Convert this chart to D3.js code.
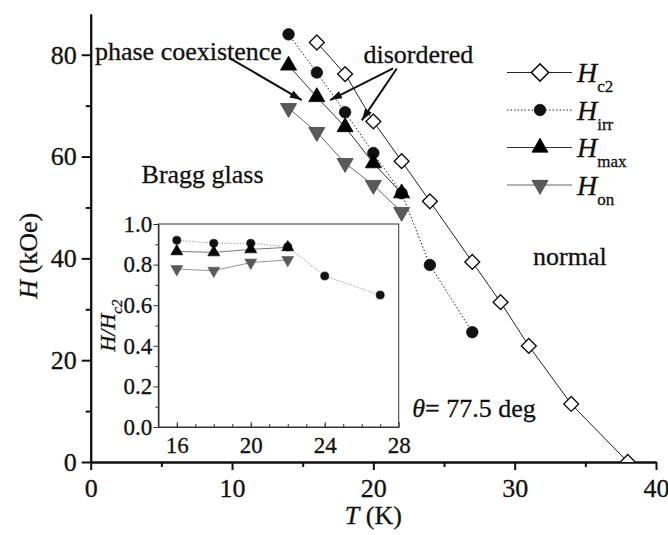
<!DOCTYPE html>
<meta charset="utf-8">

<script src="https://d3js.org/d3.v7.min.js"></script>

<style type="text/css">

body {
  margin: 0;
  background: white;
}

svg text {
  font-family: "Liberation Serif", "DejaVu Serif", serif;
  fill: #111;
  stroke: #111;
  stroke-width: 0.3px;
}

.axis text {
  font-size: 26px;
}

.axis path, .axis line {
  stroke: #111;
  stroke-width: 2px;
}

.inset .axis text {
  font-size: 23px;
}

.inset .axis path, .inset .axis line {
  stroke: #333;
  stroke-width: 1px;
}

.label {
  font-size: 26px;
}

</style>

<body>
</body>

<script>

// main panel data, T in K, H in kOe
var tHc2 = [16, 18, 20, 22, 24, 27, 29, 31, 34, 38];
var hc2 = [82.4, 76.2, 66.9, 59.1, 51.2, 39.3, 31.4, 22.8, 11.4, 0];

var tHirr = [14, 16, 18, 20, 22, 24, 27];
var hirr = [84.0, 76.5, 68.7, 60.7, 52.8, 38.7, 25.5];

var tHmax = [14, 16, 18, 20, 22];
var hmax = [77.9, 71.7, 65.8, 58.7, 52.8];

var tHon = [14, 16, 18, 20, 22];
var hon = [69.5, 64.8, 58.7, 54.4, 49.1];

// inset data, H/Hc2
var tRatio = [16, 18, 20, 22, 24, 27];
var rIrr = [0.92, 0.905, 0.905, 0.888, 0.744, 0.65];
var tRatio4 = [16, 18, 20, 22];
var rMax = [0.865, 0.86, 0.875, 0.885];
var rOn = [0.778, 0.77, 0.81, 0.823];

var xTicks = [0, 10, 20, 30, 40];
var yTicks = [0, 20, 40, 60, 80];
var insetXTicks = [16, 20, 24, 28];
var insetYTicks = [0, 0.2, 0.4, 0.6, 0.8, 1.0];

var serif = "'Liberation Serif', 'DejaVu Serif', serif";

function zip(xs, ys) {
  return xs.map(function(x, i) { return {x: x, y: ys[i]}; });
}

var width = 668, height = 535;

var svg = d3.select("body").append("svg")
    .attr("width", width)
    .attr("height", height)
    .attr("font-family", serif);

// scales
var xScale = d3.scaleLinear()
  .domain([0, 40])
  .range([90.7, 656]);

var yScale = d3.scaleLinear()
  .domain([0, 88])
  .range([462, 14]);

// clip so the last diamond sits on the axis as a half
svg.append("clipPath").attr("id", "mainClip")
  .append("rect")
  .attr("x", xScale(0) - 20).attr("y", yScale(88))
  .attr("width", xScale(40) - xScale(0) + 40)
  .attr("height", yScale(0) - yScale(88));

// axes
var xAxis = d3.axisBottom(xScale)
  .tickValues(xTicks)
  .tickSize(8)
  .tickSizeOuter(0)
  .tickPadding(9);

var xMinor = d3.axisBottom(xScale)
  .tickValues([5, 15, 25, 35])
  .tickSize(5)
  .tickSizeOuter(0)
  .tickFormat("");

var yAxis = d3.axisLeft(yScale)
  .tickValues(yTicks)
  .tickSize(9)
  .tickSizeOuter(0)
  .tickPadding(5);

var yMinor = d3.axisLeft(yScale)
  .tickValues([10, 30, 50, 70])
  .tickSize(5)
  .tickSizeOuter(0)
  .tickFormat("");

svg.append("g").attr("class", "x axis")
  .attr("transform", "translate(0," + yScale(0) + ")")
  .call(xMinor);
svg.append("g").attr("class", "x axis")
  .attr("transform", "translate(0," + yScale(0) + ")")
  .call(xAxis);
svg.append("g").attr("class", "y axis")
  .attr("transform", "translate(" + xScale(0) + ",0)")
  .call(yMinor);
svg.append("g").attr("class", "y axis")
  .attr("transform", "translate(" + xScale(0) + ",0)")
  .call(yAxis);

// axis titles
var xTitle = svg.append("text").attr("class", "label")
  .attr("x", xScale(20)).attr("y", 524)
  .attr("text-anchor", "middle");
xTitle.append("tspan").style("font-style", "italic").text("T");
xTitle.append("tspan").text(" (K)");

var yTitle = svg.append("text").attr("class", "label")
  .attr("transform", "translate(37," + yScale(40.5) + ") rotate(-90)")
  .attr("text-anchor", "middle");
yTitle.append("tspan").style("font-style", "italic").text("H");
yTitle.append("tspan").text(" (kOe)");

// series styles
var series = [
  {name: "c2", t: tHc2, h: hc2, sym: d3.symbolSquare, size: 110, rot: 45,
   fill: "white", stroke: "#111", line: "#222", dash: null},
  {name: "irr", t: tHirr, h: hirr, sym: d3.symbolCircle, size: 104, rot: 0,
   fill: "#111", stroke: "#111", line: "#222", dash: "1.5,2"},
  {name: "max", t: tHmax, h: hmax, sym: d3.symbolTriangle, size: 112, rot: 0,
   fill: "#000", stroke: "#000", line: "#333", dash: null},
  {name: "on", t: tHon, h: hon, sym: d3.symbolTriangle, size: 112, rot: 180,
   fill: "#5a5a5a", stroke: "#444", line: "#666", dash: null}
];

var line = d3.line()
  .x(function(d) { return xScale(d.x); })
  .y(function(d) { return yScale(d.y); });

var plot = svg.append("g").attr("clip-path", "url(#mainClip)");

series.forEach(function(s) {
  var pts = zip(s.t, s.h);
  plot.append("path")
    .datum(pts)
    .attr("d", line)
    .attr("fill", "none")
    .attr("stroke", s.line)
    .attr("stroke-width", 1)
    .attr("stroke-dasharray", s.dash);
});

series.forEach(function(s) {
  var pts = zip(s.t, s.h);
  plot.selectAll(".pt-" + s.name)
    .data(pts).enter().append("path")
    .attr("class", "pt-" + s.name)
    .attr("d", d3.symbol().type(s.sym).size(s.size))
    .attr("transform", function(d) { return "translate(" + xScale(d.x) + "," + yScale(d.y) + ") rotate(" + s.rot + ")"; })
    .attr("fill", s.fill)
    .attr("stroke", s.stroke)
    .attr("stroke-width", s.name == "c2" ? 1.4 : 0.8);
});

// legend
var legend = svg.append("g");
series.forEach(function(s, i) {
  var y = 72.5 + i * 37.5;
  legend.append("line")
    .attr("x1", 507).attr("x2", 572)
    .attr("y1", y).attr("y2", y)
    .attr("stroke", s.line)
    .attr("stroke-width", 1)
    .attr("stroke-dasharray", s.dash);
  legend.append("path")
    .attr("d", d3.symbol().type(s.sym).size(s.name == "c2" ? 150 : s.size))
    .attr("transform", "translate(540," + y + ") rotate(" + s.rot + ")")
    .attr("fill", s.fill)
    .attr("stroke", s.stroke)
    .attr("stroke-width", s.name == "c2" ? 1.6 : 0.8);
  var t = legend.append("text").attr("class", "label")
    .attr("x", 577).attr("y", y + 9.5)
    .style("font-size", "28px");
  t.append("tspan").style("font-style", "italic").text("H");
  t.append("tspan").attr("dy", 10).style("font-size", "17px").text(s.name);
});

// annotations, positioned in data units
var notes = [
  {text: "phase coexistence", t: 0.3, h: 78.9},
  {text: "disordered", t: 19.3, h: 78.3},
  {text: "Bragg glass", t: 3.6, h: 54.8},
  {text: "normal", t: 31.3, h: 38.7}
];
svg.selectAll(".note")
  .data(notes).enter().append("text")
  .attr("class", "label note")
  .attr("x", function(d) { return xScale(d.t); })
  .attr("y", function(d) { return yScale(d.h); })
  .text(function(d) { return d.text; });

var theta = svg.append("text").attr("class", "label")
  .attr("x", xScale(22.75)).attr("y", yScale(8.8));
theta.append("tspan").style("font-style", "italic").text("\u03b8");
theta.append("tspan").text("= 77.5 deg");

// arrows
svg.append("defs").append("marker")
  .attr("id", "head")
  .attr("viewBox", "0 0 12 8")
  .attr("refX", 12).attr("refY", 4)
  .attr("markerWidth", 12).attr("markerHeight", 8)
  .attr("markerUnits", "userSpaceOnUse")
  .attr("orient", "auto")
  .append("path")
  .attr("d", "M0,0 L12,4 L0,8 Z")
  .attr("fill", "#111");

var arrows = [
  {t0: 9.86, h0: 79.3, t1: 14.93, h1: 71.1},
  {t0: 21.4, h0: 77.3, t1: 16.94, h1: 71.1},
  {t0: 21.66, h0: 77.3, t1: 19.18, h1: 67.1}
];
svg.selectAll(".arrow")
  .data(arrows).enter().append("line")
  .attr("class", "arrow")
  .attr("x1", function(d) { return xScale(d.t0); })
  .attr("y1", function(d) { return yScale(d.h0); })
  .attr("x2", function(d) { return xScale(d.t1); })
  .attr("y2", function(d) { return yScale(d.h1); })
  .attr("stroke", "#111")
  .attr("stroke-width", 2)
  .attr("marker-end", "url(#head)");

// inset
var inset = svg.append("g").attr("class", "inset");

var ix = d3.scaleLinear().domain([15, 28]).range([158.3, 398.7]);
var iy = d3.scaleLinear().domain([0, 1]).range([427, 224]);

inset.append("rect")
  .attr("x", ix(15)).attr("y", iy(1))
  .attr("width", ix(28) - ix(15))
  .attr("height", iy(0) - iy(1))
  .attr("fill", "white")
  .attr("stroke", "#333")
  .attr("stroke-width", 1);

inset.append("g").attr("class", "axis")
  .attr("transform", "translate(0," + iy(0) + ")")
  .call(d3.axisBottom(ix).tickValues(d3.range(16, 28, 1)).tickSize(-3).tickSizeOuter(0).tickFormat(""));
inset.append("g").attr("class", "axis")
  .attr("transform", "translate(0," + iy(0) + ")")
  .call(d3.axisBottom(ix).tickValues(insetXTicks).tickSize(-5).tickSizeOuter(0).tickPadding(10));
inset.append("g").attr("class", "axis")
  .attr("transform", "translate(" + ix(15) + ",0)")
  .call(d3.axisLeft(iy).tickValues([0.1, 0.3, 0.5, 0.7, 0.9]).tickSize(3).tickSizeOuter(0).tickFormat(""));
inset.append("g").attr("class", "axis")
  .attr("transform", "translate(" + ix(15) + ",0)")
  .call(d3.axisLeft(iy).tickValues(insetYTicks).tickSize(5).tickSizeOuter(0).tickPadding(1).tickFormat(d3.format(".1f")));

// d3 axes set their own sans-serif family, put the serif back
svg.selectAll(".axis").attr("font-family", serif);

var iTitle = inset.append("text")
  .attr("transform", "translate(115," + iy(0.5) + ") rotate(-90)")
  .attr("text-anchor", "middle")
  .style("font-size", "22px");
iTitle.append("tspan").style("font-style", "italic").text("H/H");
iTitle.append("tspan").attr("dy", 7).style("font-style", "italic").style("font-size", "15px").text("c2");

var iline = d3.line()
  .x(function(d) { return ix(d.x); })
  .y(function(d) { return iy(d.y); });

var insetSeries = [
  {t: tRatio, r: rIrr, sym: d3.symbolCircle, size: 52, rot: 0, fill: "#111", line: "#888", dash: "1.5,1.5"},
  {t: tRatio4, r: rMax, sym: d3.symbolTriangle, size: 62, rot: 0, fill: "#000", line: "#555", dash: null},
  {t: tRatio4, r: rOn, sym: d3.symbolTriangle, size: 62, rot: 180, fill: "#5a5a5a", line: "#777", dash: null}
];

insetSeries.forEach(function(s) {
  inset.append("path")
    .datum(zip(s.t, s.r))
    .attr("d", iline)
    .attr("fill", "none")
    .attr("stroke", s.line)
    .attr("stroke-width", 0.8)
    .attr("stroke-dasharray", s.dash);
});

insetSeries.forEach(function(s) {
  inset.selectAll(null)
    .data(zip(s.t, s.r)).enter().append("path")
    .attr("d", d3.symbol().type(s.sym).size(s.size))
    .attr("transform", function(d) { return "translate(" + ix(d.x) + "," + iy(d.y) + ") rotate(" + s.rot + ")"; })
    .attr("fill", s.fill)
    .attr("stroke", s.fill)
    .attr("stroke-width", 0.6);
});

</script>
